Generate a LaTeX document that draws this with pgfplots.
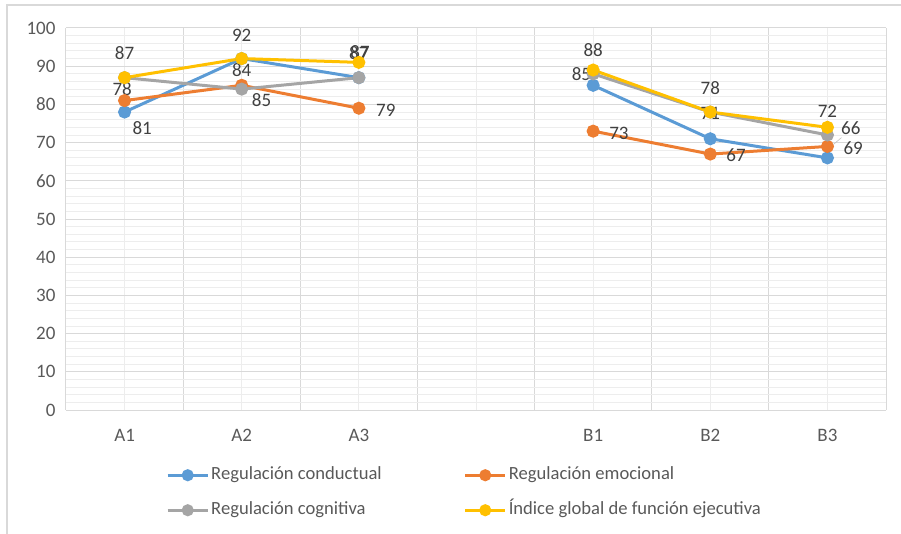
\documentclass[border=0pt]{standalone}
\usepackage{pgfplots}
\pgfplotsset{compat=1.18}
\usepackage{fontspec}
\setmainfont{Carlito}
\definecolor{cBlue}{HTML}{5B9BD5}
\definecolor{cOrange}{HTML}{ED7D31}
\definecolor{cGray}{HTML}{A5A5A5}
\definecolor{cYellow}{HTML}{FFC000}
\definecolor{frameC}{HTML}{D9D9D9}
\definecolor{gridMaj}{HTML}{D9D9D9}
\definecolor{gridMin}{HTML}{EDEDED}
\definecolor{tickC}{HTML}{595959}
\definecolor{labC}{HTML}{404040}
\begin{document}
\begin{tikzpicture}[font=\fontsize{19pt}{22pt}\selectfont]
\path[use as bounding box] (-66pt,-123pt) rectangle (835pt,410pt);
\draw[color=frameC, line width=2pt] (-59pt,-124pt) -- (-59pt,405pt) -- (836pt,405pt);
\begin{axis}[
  at={(0pt,0pt)}, anchor=south west,
  scale only axis, width=820pt, height=382pt,
  xmin=-0.5, xmax=6.5, ymin=0, ymax=100,
  clip=false,
  unbounded coords=jump,
  axis line style={draw=none},
  major tick length=0pt, minor tick length=0pt,
  xtick={-0.5,0.5,1.5,2.5,3.5,4.5,5.5,6.5},
  xticklabels={},
  minor xtick={0,1,2,3,4,5,6},
  extra x ticks={0,1,2,4,5,6},
  extra x tick labels={A1,A2,A3,B1,B2,B3},
  extra x tick style={grid=none, major tick length=0pt},
  ytick={0,10,...,100},
  minor y tick num=4,
  xmajorgrids, xminorgrids, ymajorgrids, yminorgrids,
  major grid style={draw=gridMaj, line width=1pt},
  minor grid style={draw=gridMin, line width=0.9pt},
  tick label style={text=tickC, font=\fontsize{19pt}{22pt}\selectfont},
  /pgf/number format/assume math mode=true,
  xticklabel style={yshift=-16pt},
  yticklabel style={xshift=-7pt},
  legend columns=2,
  legend cell align=left,
  legend style={at={(0.122,-0.148)}, anchor=north west, draw=none, fill=none,
    inner sep=0pt, row sep=18pt,
    font=\fontsize{18.6pt}{21pt}\selectfont, text=tickC,
    nodes={inner xsep=2pt, inner ysep=0pt, text height=13pt, text depth=4pt},
    /tikz/every even column/.append style={column sep=80pt}},
  legend image code/.code={
    \draw[line width=3pt] (0pt,0pt) -- (40pt,0pt);
    \fill (20pt,0pt) circle (4.5pt);
  },
  every axis plot/.append style={line width=3pt, mark=*, mark size=5pt},
]
\addplot[color=cBlue, mark options={fill=cBlue, draw=cBlue}] coordinates {(0,78) (1,92) (2,87) (3,nan) (4,85) (5,71) (6,66)};
\addlegendentry{Regulación conductual}
\addplot[color=cOrange, mark options={fill=cOrange, draw=cOrange}] coordinates {(0,81) (1,85) (2,79) (3,nan) (4,73) (5,67) (6,69)};
\addlegendentry{Regulación emocional}
\addplot[color=cGray, mark options={fill=cGray, draw=cGray}] coordinates {(0,87) (1,84) (2,87) (3,nan) (4,88) (5,78) (6,72)};
\addlegendentry{Regulación cognitiva}
\addplot[color=cYellow, mark options={fill=cYellow, draw=cYellow}] coordinates {(0,87) (1,92) (2,91) (3,nan) (4,89) (5,78) (6,74)};
\addlegendentry{Índice global de función ejecutiva}
\begin{scope}[every node/.style={text=labC, font=\fontsize{19pt}{22pt}\selectfont, inner sep=0pt}]
\node at (axis cs:0,93.5) {87};
\node at (axis cs:-0.02,84) {78};
\node at (axis cs:0.15,73.8) {81};
\node at (axis cs:1,98.2) {92};
\node at (axis cs:1,89) {84};
\node at (axis cs:1.17,81.1) {85};
\node at (axis cs:2,93.5) {87};
\node at (axis cs:2.01,93.8) {87};
\node at (axis cs:2.23,78.5) {79};
\node at (axis cs:4,94.2) {88};
\node at (axis cs:3.9,87.9) {85};
\node at (axis cs:4.22,72.5) {73};
\node at (axis cs:5,84.3) {78};
\node at (axis cs:5,77.7) {71};
\node at (axis cs:5.22,66.8) {67};
\node at (axis cs:6,78.3) {72};
\node at (axis cs:6.2,73.8) {66};
\node at (axis cs:6.22,68.6) {69};
\end{scope}
\draw[color=cGray!70, line width=0.6pt] (axis cs:6.05,69.5) -- (axis cs:6.12,71.3);
\end{axis}
\end{tikzpicture}
\end{document}
